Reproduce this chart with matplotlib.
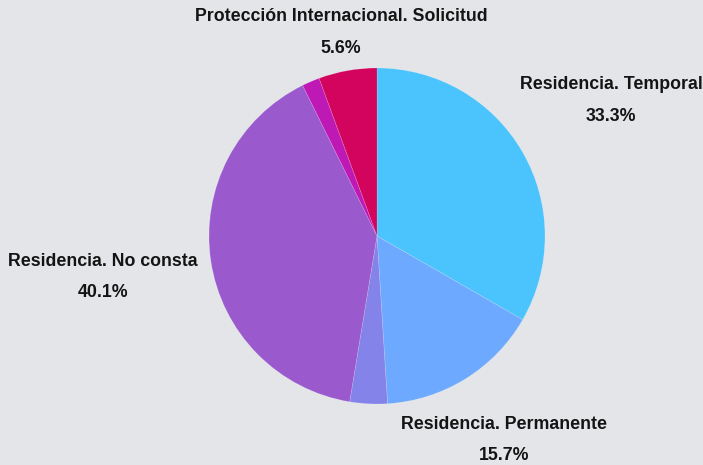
import matplotlib
matplotlib.use("Agg")
import matplotlib.pyplot as plt
import numpy as np

categories = ["Residencia. Temporal", "Residencia. Permanente", "Otro 1",
              "Residencia. No consta", "Otro 2", "Protección Internacional. Solicitud"]
values = [33.3, 15.7, 3.6, 40.1, 1.7, 5.6]
show_label = [True, True, False, True, False, True]
colors = ["#4BC4FD", "#6DA9FE", "#8383EA", "#9B59CE", "#BE19B5", "#D3045D"]
label_r = [1.61, 1.43, 0, 1.65, 0, 1.23]

W, H = 703, 465
fig = plt.figure(figsize=(W / 100, H / 100), dpi=100)
fig.patch.set_facecolor("#E4E5E9")
ax = fig.add_axes([0, 0, 1, 1])
ax.set_facecolor("#E4E5E9")

cx, cy, R = 377, H - 236, 168
wedges, _ = ax.pie(values, colors=colors, startangle=90, counterclock=False,
                   center=(cx, cy), radius=R, frame=True,
                   wedgeprops=dict(edgecolor=(1, 1, 1, 0.2), linewidth=0.5))
ax.set_xlim(0, W)
ax.set_ylim(0, H)
ax.set_aspect("equal")
ax.axis("off")

total = sum(values)
cum = 0
for v, name, show, lr in zip(values, categories, show_label, label_r):
    mid = (cum + v / 2) / total * 2 * np.pi
    cum += v
    if not show:
        continue
    x = cx + np.sin(mid) * R * lr
    y = cy + np.cos(mid) * R * lr
    ax.text(x, y, f"{name}\n{v:.1f}%", ha="center", va="center",
            fontsize=12.8, fontweight="bold", family="Liberation Sans",
            color="#141414", linespacing=2.1, multialignment="center")

fig.savefig("out.png", dpi=100, facecolor=fig.get_facecolor())
